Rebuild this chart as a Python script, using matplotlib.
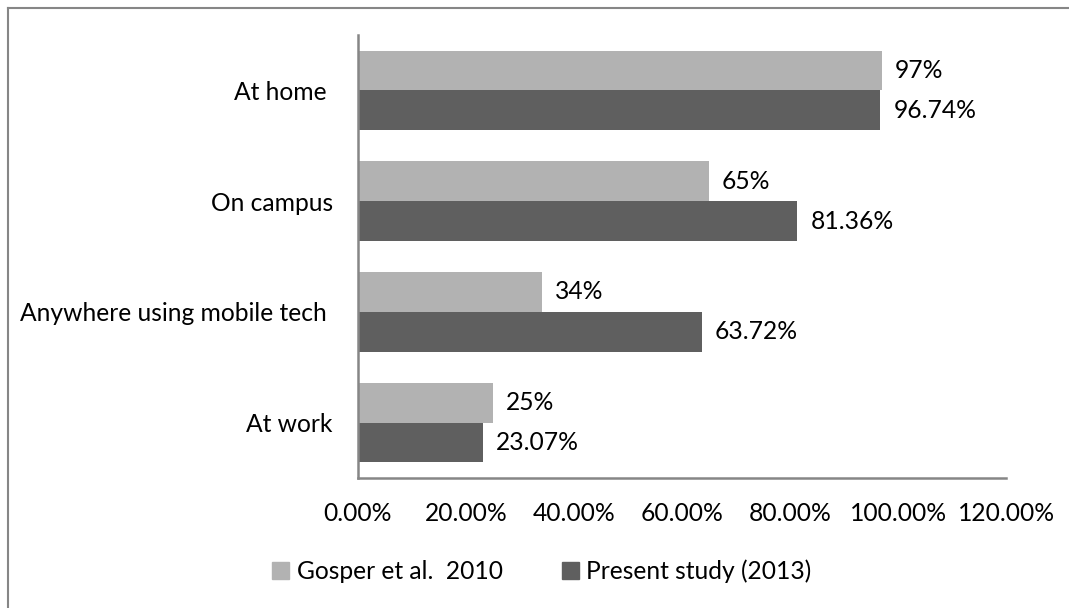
import matplotlib
matplotlib.use('Agg')
import matplotlib.pyplot as plt
from matplotlib.lines import Line2D
from matplotlib.patches import Patch
import numpy as np

categories = ['At home ', 'On campus', 'Anywhere using mobile tech ', 'At work']
gosper_2010 = [97, 65, 34, 25]
present_2013 = [96.74, 81.36, 63.72, 23.07]
gosper_labels = ['97%', '65%', '34%', '25%']
present_labels = ['96.74%', '81.36%', '63.72%', '23.07%']
x_ticks = [0, 20, 40, 60, 80, 100, 120]
series_names = ['Gosper et al.  2010', 'Present study (2013)']

LIGHT = '#B2B2B2'
DARK = '#5F5F5F'
AXIS_GREY = '#868686'
FONT = 'Lato'
FS = 17.7

plt.rcParams['font.family'] = [FONT, 'DejaVu Sans']

fig = plt.figure(figsize=(10.69, 6.08), dpi=100)
ax = fig.add_axes([358 / 1069, 1 - 478 / 608, (1006 - 358) / 1069, (478 - 35) / 608])

y = np.arange(len(categories))
h = 0.36
ax.barh(y - h / 2, gosper_2010, height=h, color=LIGHT, label=series_names[0])
ax.barh(y + h / 2, present_2013, height=h, color=DARK, label=series_names[1])

for yi, v, lab in zip(y, gosper_2010, gosper_labels):
    ax.annotate(lab, (v, yi - h / 2), xytext=(13, 0), textcoords='offset pixels',
                va='center', ha='left', fontsize=FS, color='black')
for yi, v, lab in zip(y, present_2013, present_labels):
    ax.annotate(lab, (v, yi + h / 2), xytext=(13, 0), textcoords='offset pixels',
                va='center', ha='left', fontsize=FS, color='black')

ax.set_ylim(len(categories) - 0.5, -0.5)
ax.set_xlim(0, 120)
ax.set_yticks(y)
ax.set_yticklabels(categories, fontsize=FS)
ax.set_xticks(x_ticks)
ax.set_xticklabels([f'{t:.2f}%' for t in x_ticks], fontsize=FS)
ax.tick_params(axis='both', length=0)
ax.tick_params(axis='y', pad=18)
ax.tick_params(axis='x', pad=17)

for s in ['top', 'right']:
    ax.spines[s].set_visible(False)
for s in ['left', 'bottom']:
    ax.spines[s].set_color(AXIS_GREY)
    ax.spines[s].set_linewidth(1.8)

handles = [Patch(color=LIGHT), Patch(color=DARK)]
leg = fig.legend(handles, series_names, loc='center left', bbox_to_anchor=(250 / 1069, 1 - 571 / 608),
                 ncol=2, frameon=False, fontsize=FS, handlelength=0.7, handleheight=0.7,
                 handletextpad=0.3, columnspacing=2.4)

# outer chart border (only top and left edges visible in the crop)
fig.add_artist(Line2D([8 / 1069, 1], [1 - 7.5 / 608, 1 - 7.5 / 608], color=AXIS_GREY, lw=1.5,
                      transform=fig.transFigure))
fig.add_artist(Line2D([8 / 1069, 8 / 1069], [0, 1 - 7.5 / 608], color=AXIS_GREY, lw=1.5,
                      transform=fig.transFigure))

fig.savefig('out.png', dpi=100, facecolor='white')
